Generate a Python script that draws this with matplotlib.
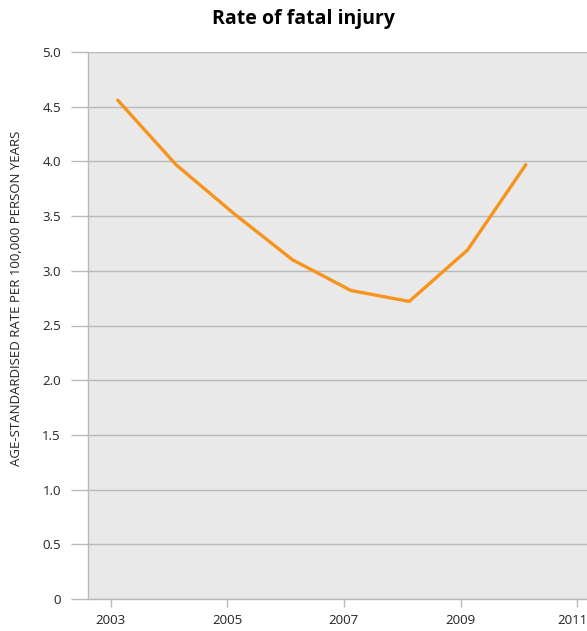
import matplotlib.pyplot as plt
import matplotlib.ticker as mticker
import matplotlib.transforms as mtransforms

# data
years = [2003, 2004, 2005, 2006, 2007, 2008, 2009, 2010]
rate = [4.56, 3.97, 3.52, 3.10, 2.82, 2.72, 3.19, 3.97]
xticks = [2003, 2005, 2007, 2009, 2011]
yticks = [0, 0.5, 1.0, 1.5, 2.0, 2.5, 3.0, 3.5, 4.0, 4.5, 5.0]

plt.rcParams['font.family'] = ['Open Sans', 'DejaVu Sans']

fig = plt.figure(figsize=(5.87, 6.31), dpi=100)
# axes runs off the right edge like the original
ax = fig.add_axes([88/587, 32/631, 520/587, 547/631])
ax.set_facecolor('#e9e9e9')

# points sit a bit after the year tick
xpos = [y + 0.12 for y in years]
ax.plot(xpos, rate, color='#f7941d', linewidth=2.4, solid_capstyle='round', zorder=3)

ax.set_xlim(2002.61, 2011.53)
ax.set_ylim(0, 5.0)
ax.set_xticks(xticks)
ax.set_yticks(yticks)
ax.yaxis.set_major_formatter(mticker.FuncFormatter(lambda v, p: '0' if v == 0 else '%.1f' % v))

ax.grid(axis='y', color='#b9b9b9', linewidth=1)
ax.set_axisbelow(True)
for s in ['top', 'right']:
    ax.spines[s].set_visible(False)
ax.spines['left'].set_color('#b9b9b9')
ax.spines['bottom'].set_color('#b9b9b9')
ax.spines['left'].set_linewidth(1)
ax.spines['bottom'].set_linewidth(1)

ax.tick_params(axis='y', length=12.5, color='#b9b9b9', width=1, pad=7, labelsize=9.5, labelcolor='#222222')
ax.tick_params(axis='x', length=6, color='#b9b9b9', width=1, pad=5, labelsize=9.5, labelcolor='#222222')

# last year label is squeezed in at the right edge
last = ax.get_xticklabels()[-1]
last.set_transform(last.get_transform() + mtransforms.ScaledTranslation(-5/100, 0, fig.dpi_scale_trans))

fig.text(17/587, 1 - 298/631, 'AGE-STANDARDISED RATE PER 100,000 PERSON YEARS', rotation=90,
         ha='center', va='center', fontsize=9.5, color='#222222')

fig.text(304/587, 1 - 19/631, 'Rate of fatal injury', ha='center', va='center',
         fontsize=14, fontweight='bold', color='black')

plt.savefig('out.png', dpi=100)
